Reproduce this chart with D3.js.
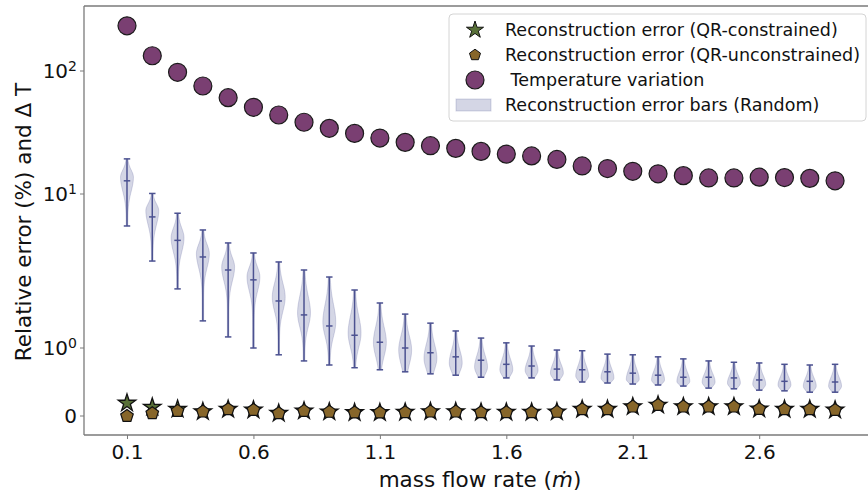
<!DOCTYPE html>
<html>
<head>
<meta charset="utf-8">
<script src="https://cdn.jsdelivr.net/npm/d3@7"></script>
<style>
  body { margin: 0; background: #fff; }
  svg { display: block; }
  text { font-family: "DejaVu Sans", "Liberation Sans", sans-serif; fill: #111; }
</style>
</head>
<body>
<svg id="chart" width="868" height="495"></svg>
<script>
// ---- data -------------------------------------------------------------
const flowRates = [0.1, 0.2, 0.3, 0.4, 0.5, 0.6, 0.7, 0.8, 0.9, 1.0,
                   1.1, 1.2, 1.3, 1.4, 1.5, 1.6, 1.7, 1.8, 1.9, 2.0,
                   2.1, 2.2, 2.3, 2.4, 2.5, 2.6, 2.7, 2.8, 2.9];

const errConstrained = [0.19, 0.13, 0.10, 0.064, 0.098, 0.088, 0.04, 0.074, 0.06, 0.05,
                        0.05, 0.055, 0.064, 0.064, 0.055, 0.055, 0.055, 0.06, 0.098, 0.098,
                        0.137, 0.16, 0.137, 0.137, 0.137, 0.103, 0.098, 0.098, 0.088];

const errUnconstrained = [0.0, 0.04, 0.074, 0.064, 0.098, 0.088, 0.04, 0.074, 0.06, 0.05,
                          0.05, 0.055, 0.064, 0.064, 0.055, 0.055, 0.055, 0.06, 0.098, 0.098,
                          0.137, 0.16, 0.137, 0.137, 0.137, 0.103, 0.098, 0.098, 0.088];

const tempVariation = [233, 133, 97.6, 75.5, 60.7, 50.7, 43.9, 38.3, 34.2, 31.1,
                       28.5, 26.3, 24.7, 23.5, 22.2, 21.1, 20.4, 19.1, 16.9, 16.1,
                       15.3, 14.6, 14.1, 13.5, 13.5, 13.7, 13.6, 13.4, 12.8];

// random-sensor reconstruction error distributions (extrema, median, densest value)
const violinMax = [19.3, 10.1, 7.5, 5.84, 4.81, 4.14, 3.62, 3.21, 2.89, 2.38,
                   1.96, 1.66, 1.45, 1.29, 1.16, 1.08, 1.03, 0.97, 0.96, 0.91,
                   0.90, 0.87, 0.84, 0.81, 0.79, 0.78, 0.76, 0.75, 0.76];
const violinMedian = [12.8, 7.1, 5.0, 3.9, 3.21, 2.77, 2.02, 1.64, 1.39, 1.21,
                      1.09, 1.0, 0.93, 0.87, 0.82, 0.76, 0.735, 0.69, 0.68, 0.65,
                      0.63, 0.60, 0.57, 0.57, 0.56, 0.53, 0.51, 0.51, 0.50];
const violinMin = [6.2, 3.67, 2.42, 1.5, 1.18, 1.0, 0.90, 0.81, 0.75, 0.71,
                   0.68, 0.65, 0.62, 0.60, 0.57, 0.56, 0.56, 0.53, 0.50, 0.485,
                   0.47, 0.456, 0.44, 0.41, 0.40, 0.38, 0.37, 0.35, 0.35];
const violinMode = [13.7, 7.8, 5.2, 4.1, 3.36, 2.9, 2.14, 1.69, 1.47, 1.25,
                    1.09, 0.97, 0.85, 0.78, 0.72, 0.68, 0.67, 0.63, 0.59, 0.56,
                    0.54, 0.53, 0.51, 0.50, 0.485, 0.47, 0.456, 0.44, 0.44];

const xTickValues = [0.1, 0.6, 1.1, 1.6, 2.1, 2.6];
const yTickValues = [0, 1, 10, 100];
const yTickBase = ["0", "10", "10", "10"];
const yTickExp = ["", "0", "1", "2"];

const legendLabels = ["Reconstruction error (QR-constrained)",
                      "Reconstruction error (QR-unconstrained)",
                      " Temperature variation",
                      "Reconstruction error bars (Random)"];

// ---- styling -----------------------------------------------------------
const colStar = "#587038";
const colPent = "#87662a";
const colTemp = "#7a3f72";
const colViolinLine = "#4c5291";
const colViolinFill = "rgba(76,82,145,0.24)";
const colSpine = "#7a7a7a";

const plot = { left: 84, top: 6, bottom: 435, right: 873 };
const svg = d3.select("#chart");

// ---- scales ------------------------------------------------------------
const x = d3.scaleLinear().domain([-0.07, 3.05]).range([plot.left, plot.right]);

// linear below 1, logarithmic decades above
const warp = v => (v <= 1 ? v : 1 + Math.log10(v));
const yWarp = d3.scaleLinear().domain([0, 1, 2, 3]).range([416, 348, 194, 71]);
const y = v => yWarp(warp(v));

// ---- violins -----------------------------------------------------------
const halfW = x(0.1255) - x(0.1);
const g = svg.append("g");

flowRates.forEach((fr, i) => {
  const cx = x(fr);
  const yTop = y(violinMax[i]);
  const yBot = y(violinMin[i]);
  const yPk = y(violinMode[i]);
  const sUp = Math.max((yPk - yTop) / 1.8, 1);
  const sDn = Math.max(Math.min(yBot - yPk, 20), 3);
  const n = 48;
  const prof = d3.range(n + 1).map(k => {
    const py = yTop + (yBot - yTop) * k / n;
    const d = py - yPk;
    const s = d < 0 ? sUp : sDn;
    const w = halfW * (0.12 + 0.88 * Math.exp(-(d / s) * (d / s)));
    return [py, w];
  });
  const pts = prof.map(([py, w]) => [cx + w, py])
    .concat(prof.slice().reverse().map(([py, w]) => [cx - w, py]));
  g.append("path")
    .attr("d", d3.line().curve(d3.curveLinearClosed)(pts))
    .attr("fill", colViolinFill)
    .attr("stroke", "rgba(76,82,145,0.22)")
    .attr("stroke-width", 1);

  const cap = halfW * 0.5;
  g.append("line").attr("x1", cx).attr("x2", cx).attr("y1", yTop).attr("y2", yBot)
    .attr("stroke", colViolinLine).attr("stroke-width", 1.5);
  [violinMax[i], violinMedian[i], violinMin[i]].forEach(v => {
    g.append("line").attr("x1", cx - cap).attr("x2", cx + cap)
      .attr("y1", y(v)).attr("y2", y(v))
      .attr("stroke", colViolinLine).attr("stroke-width", 1.5);
  });
});

// ---- temperature variation ----------------------------------------------
svg.append("g").selectAll("circle").data(tempVariation).join("circle")
  .attr("cx", (d, i) => x(flowRates[i]))
  .attr("cy", d => y(d))
  .attr("r", 9)
  .attr("fill", colTemp)
  .attr("stroke", "#1b1b1b")
  .attr("stroke-width", 1.2);

// ---- reconstruction error markers ---------------------------------------
const pentagon = {
  draw(ctx, size) {
    const r = Math.sqrt(size / 2.3776);
    for (let k = 0; k < 5; k++) {
      const a = -Math.PI / 2 + k * 2 * Math.PI / 5;
      const px = r * Math.cos(a), py = r * Math.sin(a);
      if (k === 0) ctx.moveTo(px, py); else ctx.lineTo(px, py);
    }
    ctx.closePath();
  }
};
const starPath = d3.symbol(d3.symbolStar, 9.2 * 9.2 / 0.8908130915292852)();
const pentPath = d3.symbol(pentagon, 2.3776 * 6.6 * 6.6)();

svg.append("g").selectAll("path").data(errConstrained).join("path")
  .attr("d", starPath)
  .attr("transform", (d, i) => `translate(${x(flowRates[i])},${y(d)})`)
  .attr("fill", colStar).attr("stroke", "#111").attr("stroke-width", 1.3)
  .attr("stroke-linejoin", "miter");

svg.append("g").selectAll("path").data(errUnconstrained).join("path")
  .attr("d", pentPath)
  .attr("transform", (d, i) => `translate(${x(flowRates[i])},${y(d)})`)
  .attr("fill", colPent).attr("stroke", "#111").attr("stroke-width", 1.2);

// ---- axes --------------------------------------------------------------
const axes = svg.append("g");
axes.append("line").attr("x1", plot.left).attr("x2", plot.left)
  .attr("y1", plot.top).attr("y2", plot.bottom).attr("stroke", colSpine).attr("stroke-width", 1.3);
axes.append("line").attr("x1", plot.left).attr("x2", 868)
  .attr("y1", plot.bottom).attr("y2", plot.bottom).attr("stroke", colSpine).attr("stroke-width", 1.3);
axes.append("line").attr("x1", plot.left).attr("x2", 868)
  .attr("y1", plot.top).attr("y2", plot.top).attr("stroke", colSpine).attr("stroke-width", 1.3);

const xAxis = d3.axisBottom(x).tickValues(xTickValues).tickSize(4).tickPadding(6)
  .tickFormat(d3.format(".1f"));
const xg = svg.append("g").attr("transform", `translate(0,${plot.bottom})`).call(xAxis);
xg.select(".domain").remove();
xg.selectAll(".tick line").attr("stroke", colSpine);
xg.selectAll(".tick text").style("font-size", "20px").attr("fill", "#111")
  .style("font-family", '"DejaVu Sans", sans-serif');

yTickValues.forEach((v, i) => {
  const py = y(v);
  axes.append("line").attr("x1", plot.left - 4).attr("x2", plot.left)
    .attr("y1", py).attr("y2", py).attr("stroke", colSpine).attr("stroke-width", 1);
  const t = axes.append("text").attr("x", 77).attr("y", py).attr("dy", "0.36em")
    .attr("text-anchor", "end").style("font-size", "20px");
  t.append("tspan").text(yTickBase[i]);
  if (yTickExp[i]) t.append("tspan").attr("dy", "-0.5em").style("font-size", "14px").text(yTickExp[i]);
});

// axis titles
const xt = svg.append("text").attr("x", 480).attr("y", 487).attr("text-anchor", "middle")
  .style("font-size", "21.5px");
xt.append("tspan").text("mass flow rate (");
xt.append("tspan").style("font-style", "italic").text("ṁ");
xt.append("tspan").text(")");

svg.append("text").attr("transform", "translate(31,222) rotate(-90)")
  .attr("text-anchor", "middle").style("font-size", "21.5px")
  .text("Relative error (%) and Δ T");

// ---- legend ------------------------------------------------------------
const lg = svg.append("g");
lg.append("rect").attr("x", 449).attr("y", 14).attr("width", 417).attr("height", 107)
  .attr("rx", 4).attr("fill", "rgba(255,255,255,0.85)").attr("stroke", "#d4d4d4");
const rowY = [30, 55, 80, 105];
const mx = 475;
lg.append("path").attr("d", d3.symbol(d3.symbolStar, 9 * 9 / 0.8908130915292852)())
  .attr("transform", `translate(${mx},${rowY[0]})`)
  .attr("fill", colStar).attr("stroke", "#111").attr("stroke-width", 1);
lg.append("path").attr("d", d3.symbol(pentagon, 2.3776 * 5.8 * 5.8)())
  .attr("transform", `translate(${mx},${rowY[1]})`)
  .attr("fill", colPent).attr("stroke", "#111").attr("stroke-width", 1);
lg.append("circle").attr("cx", mx).attr("cy", rowY[2]).attr("r", 9)
  .attr("fill", colTemp).attr("stroke", "#1b1b1b").attr("stroke-width", 1.2);
lg.append("rect").attr("x", 456).attr("y", rowY[3] - 6).attr("width", 35).attr("height", 12)
  .attr("fill", colViolinFill).attr("stroke", "rgba(76,82,145,0.22)");
legendLabels.forEach((s, i) => {
  lg.append("text").attr("x", 505).attr("y", rowY[i]).attr("dy", "0.36em")
    .attr("xml:space", "preserve").style("white-space", "pre")
    .style("font-size", "17.5px").text(s);
});
</script>
</body>
</html>
